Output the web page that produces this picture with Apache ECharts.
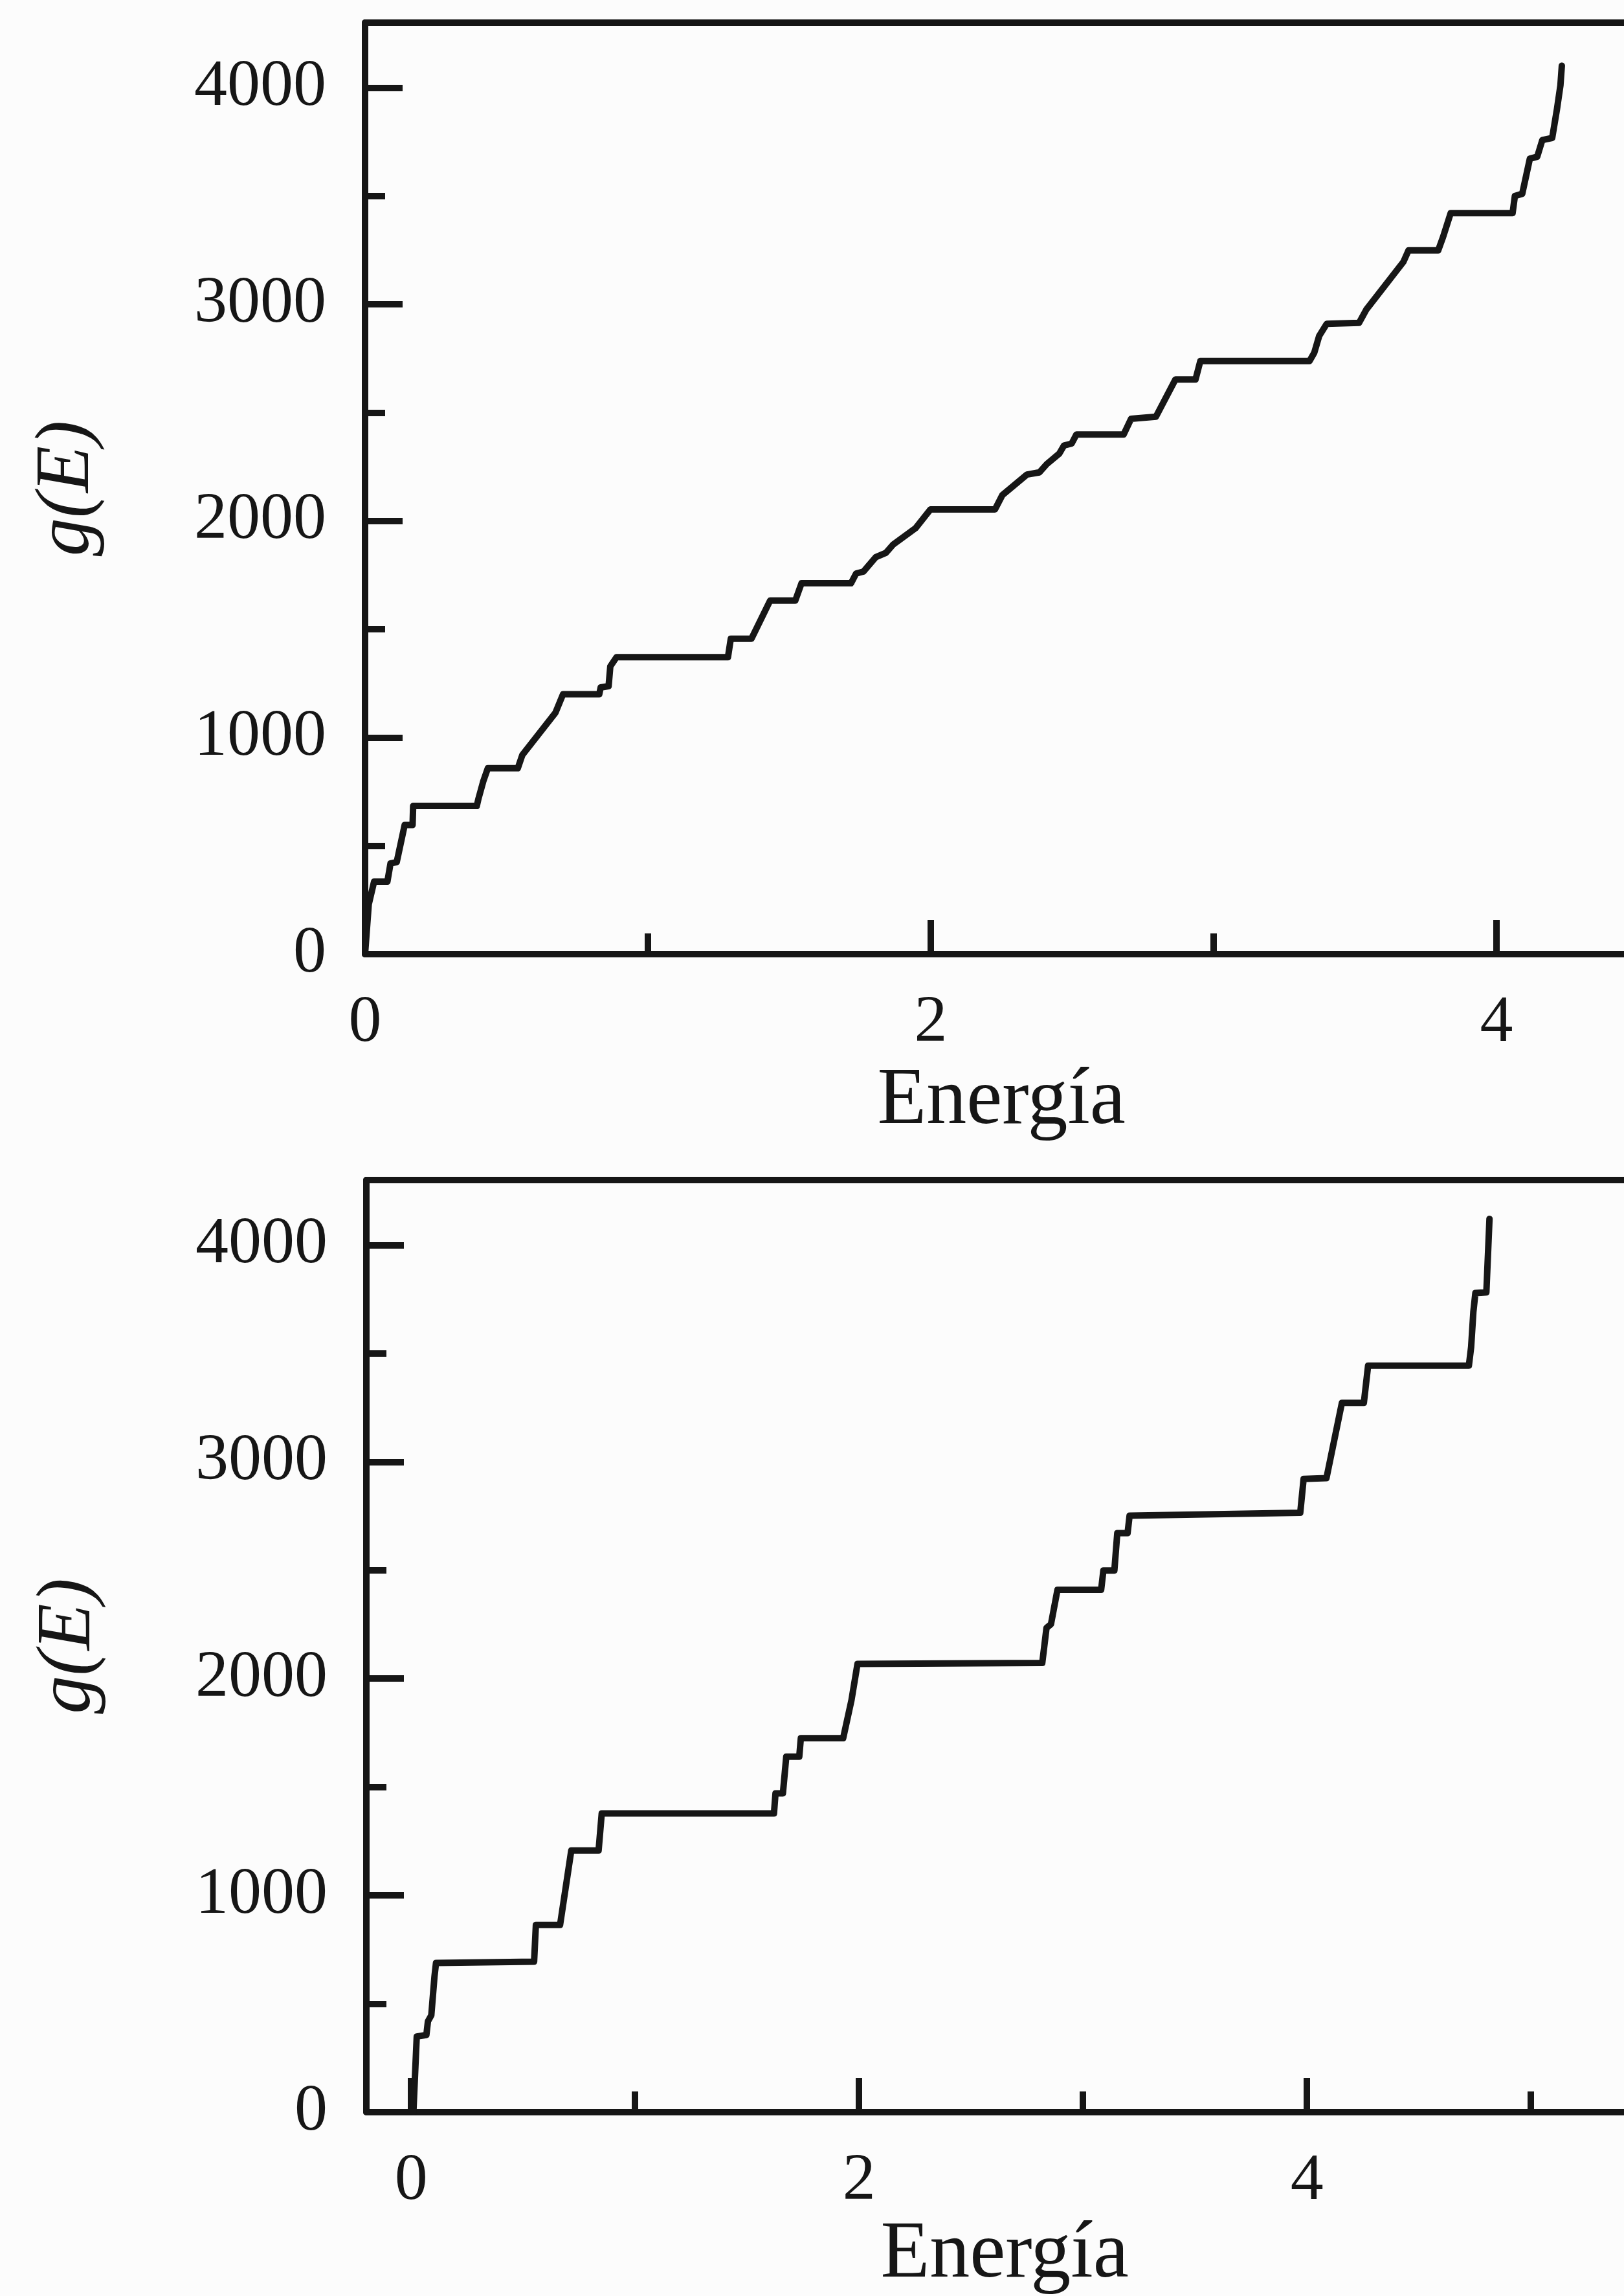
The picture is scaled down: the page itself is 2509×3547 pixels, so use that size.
<!DOCTYPE html>
<html>
<head>
<meta charset="utf-8">
<script src="https://cdn.jsdelivr.net/npm/echarts@6/dist/echarts.min.js"></script>
<style>
html,body{margin:0;padding:0;background:#fcfcfc;}
#chart{width:2509px;height:3547px;}
</style>
</head>
<body>
<div id="chart"></div>
<script>
// ---- data ----
const topEnergy = [0, 0.013, 0.032, 0.079, 0.090, 0.112, 0.140, 0.168, 0.170, 0.395, 0.401, 0.418, 0.434, 0.540, 0.556, 0.673, 0.700, 0.828, 0.833, 0.861, 0.867, 0.889, 1.283, 1.293, 1.366, 1.432, 1.521, 1.543, 1.718, 1.736, 1.762, 1.806, 1.841, 1.867, 1.946, 1.999, 2.227, 2.253, 2.340, 2.384, 2.410, 2.454, 2.471, 2.498, 2.515, 2.682, 2.708, 2.796, 2.865, 2.936, 2.953, 3.339, 3.356, 3.373, 3.400, 3.514, 3.540, 3.671, 3.689, 3.794, 3.811, 3.838, 4.057, 4.065, 4.091, 4.118, 4.144, 4.162, 4.197, 4.214, 4.226, 4.231];
const topG = [0, 230, 335, 335, 419, 425, 596, 596, 684, 684, 718, 798, 858, 858, 919, 1114, 1200, 1200, 1231, 1237, 1328, 1371, 1371, 1456, 1456, 1632, 1632, 1712, 1712, 1757, 1766, 1833, 1852, 1891, 1966, 2053, 2053, 2119, 2214, 2224, 2262, 2310, 2348, 2357, 2399, 2399, 2471, 2481, 2653, 2653, 2738, 2738, 2777, 2853, 2910, 2914, 2976, 3196, 3249, 3249, 3310, 3421, 3421, 3500, 3510, 3672, 3681, 3758, 3768, 3902, 4010, 4101];

const bottomEnergy = [0.010, 0.025, 0.068, 0.075, 0.090, 0.104, 0.111, 0.549, 0.557, 0.665, 0.715, 0.837, 0.851, 1.620, 1.627, 1.660, 1.675, 1.733, 1.740, 1.929, 1.966, 1.993, 2.818, 2.837, 2.857, 2.886, 3.081, 3.091, 3.140, 3.153, 3.199, 3.208, 3.970, 3.985, 4.087, 4.156, 4.254, 4.273, 4.723, 4.733, 4.743, 4.752, 4.801, 4.815];
const bottomG = [0, 349, 356, 419, 447, 624, 688, 694, 864, 864, 1207, 1207, 1378, 1378, 1471, 1471, 1640, 1640, 1725, 1725, 1900, 2068, 2072, 2234, 2251, 2410, 2410, 2499, 2499, 2671, 2671, 2752, 2765, 2921, 2925, 3272, 3272, 3444, 3444, 3529, 3692, 3779, 3782, 4121];

const yMajorTicks = [0, 1000, 2000, 3000, 4000];
const yMinorTicks = [500, 1500, 2500, 3500];
const topXMajor = [0, 2, 4];
const topXMinor = [1, 3];
const bottomXMajor = [0, 2, 4];
const bottomXMinor = [1, 3, 5];
const xName = 'Energía';
const yName = 'g(E)';

// ---- styling ----
const INK = '#161616';
const FONT = 'Liberation Serif, Times New Roman, serif';
const AX_W = 10;
const TICK_FS = 102;

function zip(a, b) { return a.map((v, i) => [v, b[i]]); }
const plain = v => String(v);

function xAxes(grid, min, max, major, minor, nameGap) {
  return [
    {
      gridIndex: grid, type: 'value', min: min, max: max, position: 'bottom',
      axisLine: { show: true, onZero: false, lineStyle: { color: INK, width: AX_W } },
      axisTick: { show: true, inside: true, length: 53, customValues: major, lineStyle: { color: INK, width: AX_W } },
      axisLabel: { show: true, customValues: major, formatter: plain, margin: 56, color: INK, fontFamily: FONT, fontSize: TICK_FS },
      splitLine: { show: false },
      name: xName, nameLocation: 'middle', nameGap: nameGap,
      nameTextStyle: { color: INK, fontFamily: FONT, fontSize: 124 }
    },
    {
      gridIndex: grid, type: 'value', min: min, max: max, position: 'bottom',
      axisLine: { show: false, onZero: false },
      axisTick: { show: true, inside: true, length: 32, customValues: minor, lineStyle: { color: INK, width: AX_W } },
      axisLabel: { show: false },
      splitLine: { show: false }
    },
    {
      gridIndex: grid, type: 'value', min: min, max: max, position: 'top',
      axisLine: { show: true, onZero: false, lineStyle: { color: INK, width: AX_W } },
      axisTick: { show: false }, axisLabel: { show: false }, splitLine: { show: false }
    }
  ];
}

function yAxes(grid) {
  return [
    {
      gridIndex: grid, type: 'value', min: 0, max: 4300, position: 'left',
      axisLine: { show: true, onZero: false, lineStyle: { color: INK, width: AX_W } },
      axisTick: { show: true, inside: true, length: 58, customValues: yMajorTicks, lineStyle: { color: INK, width: AX_W } },
      axisLabel: { show: true, customValues: yMajorTicks, formatter: plain, margin: 60, color: INK, fontFamily: FONT, fontSize: TICK_FS },
      splitLine: { show: false },
      name: yName, nameLocation: 'middle', nameGap: 400, nameRotate: 90,
      nameTextStyle: { color: INK, fontFamily: FONT, fontSize: 118, fontStyle: 'italic' }
    },
    {
      gridIndex: grid, type: 'value', min: 0, max: 4300, position: 'left',
      axisLine: { show: false, onZero: false },
      axisTick: { show: true, inside: true, length: 31, customValues: yMinorTicks, lineStyle: { color: INK, width: AX_W } },
      axisLabel: { show: false },
      splitLine: { show: false }
    }
  ];
}

const chart = echarts.init(document.getElementById('chart'), null, { renderer: 'canvas' });

const option = {
  backgroundColor: '#fcfcfc',
  animation: false,
  grid: [
    { left: 564, top: 35, width: 4.5 * 437, height: 1439, outerBoundsMode: 'none', containLabel: false },
    { left: 566, top: 1823, width: 5.7 * 346, height: 1440, outerBoundsMode: 'none', containLabel: false }
  ],
  xAxis: [].concat(
    xAxes(0, 0, 4.5, topXMajor, topXMinor, 166),
    xAxes(1, -0.2, 5.5, bottomXMajor, bottomXMinor, 159)
  ),
  yAxis: [].concat(yAxes(0), yAxes(1)),
  series: [
    {
      type: 'line', xAxisIndex: 0, yAxisIndex: 0, data: zip(topEnergy, topG),
      showSymbol: false, symbol: 'none', silent: true,
      lineStyle: { color: INK, width: 10, join: 'round', cap: 'round' }
    },
    {
      type: 'line', xAxisIndex: 3, yAxisIndex: 2, data: zip(bottomEnergy, bottomG),
      showSymbol: false, symbol: 'none', silent: true,
      lineStyle: { color: INK, width: 10, join: 'round', cap: 'round' }
    }
  ]
};
chart.setOption(option);
</script>
</body>
</html>
